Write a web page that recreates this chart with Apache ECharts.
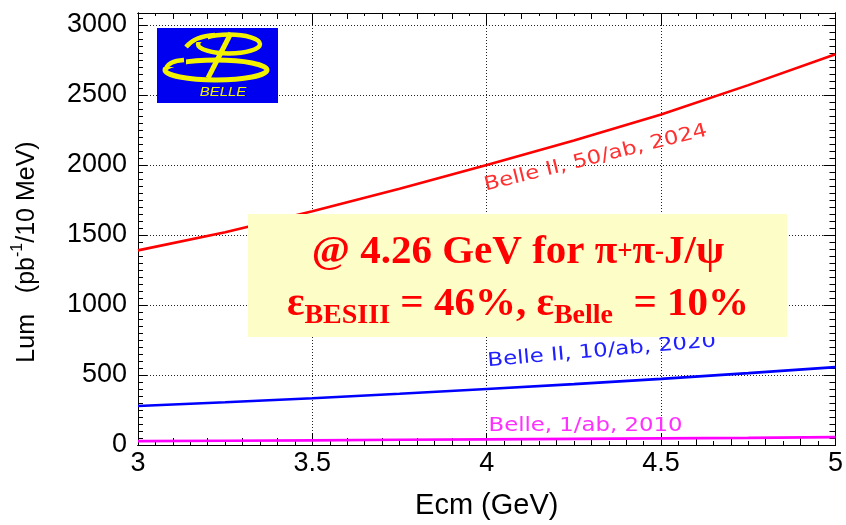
<!DOCTYPE html>
<html>
<head>
<meta charset="utf-8">
<script src="https://cdn.jsdelivr.net/npm/echarts@6/dist/echarts.min.js"></script>
<style>
  html, body { margin: 0; padding: 0; background: #fff; }
  #chart { width: 846px; height: 525px; }
</style>
</head>
<body>
<div id="chart"></div>
<script>
// Centre-of-mass energy (GeV) and integrated luminosity per 10 MeV bin (pb^-1)
const ecm            = [3.0, 3.25, 3.5, 3.75, 4.0, 4.25, 4.5, 4.75, 5.0];
const lumBelle2_50ab = [1390, 1520, 1670, 1830, 2000, 2175, 2360, 2570, 2790];
const lumBelle2_10ab = [278, 305, 334, 366, 400, 435, 472, 513, 556];
const lumBelle_1ab   = [28, 30, 33, 37, 40, 43.5, 47, 51, 56];

const seriesNames  = ['Belle II, 50/ab, 2024', 'Belle II, 10/ab, 2020', 'Belle, 1/ab, 2010'];
const seriesColors = ['#ff0000', '#0000ff', '#ff00ff'];
const labelColors  = ['#ff3030', '#2020ff', '#ff30ff'];

// Tick labels on the luminosity axis
const yTickValues = [0, 500, 1000, 1500, 2000, 2500, 3000];

const X_MIN = 3, X_MAX = 5, Y_MIN = 0, Y_MAX = 3085;
const FONT = '"Liberation Sans", Arial, Helvetica, sans-serif';
const SERIF = '"Liberation Serif", "Times New Roman", serif';

const chart = echarts.init(document.getElementById('chart'), null, { renderer: 'canvas' });

// One axis per tick level and frame side; they share the grid so the frame gets ROOT-style ticks.
function frameAxis(dim, position, interval, tickLen, extra) {
  const base = {
    type: 'value',
    position: position,
    min: dim === 'x' ? X_MIN : Y_MIN,
    max: dim === 'x' ? X_MAX : Y_MAX,
    interval: interval,
    axisLine: { show: true, onZero: false, lineStyle: { color: '#000', width: 1 } },
    axisTick: { show: true, inside: true, length: tickLen, lineStyle: { color: '#000', width: 1 } },
    axisLabel: { show: false },
    splitLine: { show: false }
  };
  return Object.assign(base, extra || {});
}

const gridDots = { show: true, lineStyle: { type: [1, 2], color: '#222', width: 1 } };

const xAxes = [
  frameAxis('x', 'bottom', 0.5, 12, {
    axisLabel: { show: true, fontSize: 27, color: '#000', fontFamily: FONT, margin: 5 },
    splitLine: gridDots,
    name: 'Ecm (GeV)',
    nameLocation: 'middle',
    nameGap: 46,
    nameTextStyle: { fontSize: 29, color: '#000', fontFamily: FONT }
  }),
  frameAxis('x', 'bottom', 0.1, 7),
  frameAxis('x', 'bottom', 0.05, 4),
  frameAxis('x', 'top', 0.5, 12),
  frameAxis('x', 'top', 0.1, 6),
  frameAxis('x', 'top', 0.05, 3)
];

const yAxes = [
  frameAxis('y', 'left', 500, 9, {
    axisLabel: {
      show: true, fontSize: 27, color: '#000', fontFamily: FONT, margin: 11,
      formatter: v => (yTickValues.indexOf(v) >= 0 ? String(v) : '')
    },
    splitLine: gridDots
  }),
  frameAxis('y', 'left', 50, 5),
  frameAxis('y', 'right', 500, 12),
  frameAxis('y', 'right', 50, 6)
];

function pairs(ys) { return ecm.map((x, i) => [x, ys[i]]); }

const seriesData = [lumBelle2_50ab, lumBelle2_10ab, lumBelle_1ab];

chart.setOption({
  animation: false,
  backgroundColor: '#ffffff',
  grid: { left: 138, right: 9, top: 13, bottom: 77, containLabel: false },
  xAxis: xAxes,
  yAxis: yAxes,
  series: seriesData.map((d, i) => ({
    name: seriesNames[i],
    type: 'line',
    xAxisIndex: 0,
    yAxisIndex: 0,
    data: pairs(d),
    smooth: false,
    showSymbol: false,
    symbol: 'none',
    z: 3,
    lineStyle: { color: seriesColors[i], width: 2.6 }
  }))
});

// Curve captions, anchored in data coordinates (lower-left corner of each caption);
// the wide, round ROOT caption font is imitated by stretching DejaVu Sans horizontally.
const captionAnchors = [[4.0, 1785], [4.005, 530], [4.005, 66]];
const captionAngles  = [14, 5, 0];

const captions = captionAnchors.map((a, i) => {
  const p = chart.convertToPixel({ xAxisIndex: 0, yAxisIndex: 0 }, a);
  return {
    type: 'text',
    x: p[0], y: p[1],
    rotation: captionAngles[i] * Math.PI / 180,
    scaleX: 1.2,
    z: 50,
    style: {
      text: seriesNames[i],
      fill: labelColors[i],
      fontFamily: '"DejaVu Sans", sans-serif',
      fontSize: 19,
      align: 'left',
      verticalAlign: 'bottom'
    }
  };
});

// Belle logo: blue plate with a stylised yellow "B"
const YEL = '#f2f200', BLU = '#0000f0';
const logo = [
  { type: 'rect', z: 60, shape: { x: 157, y: 28, width: 121, height: 75 }, style: { fill: BLU } },
  { type: 'ellipse', z: 61, shape: { cx: 229, cy: 44, rx: 31, ry: 9.5 }, style: { fill: 'none', stroke: YEL, lineWidth: 4.5 } },
  { type: 'rect', z: 61, shape: { x: 190, y: 30, width: 18, height: 12 }, style: { fill: BLU } },
  { type: 'bezierCurve', z: 62, shape: { x1: 186, y1: 47, cpx1: 195, cpy1: 36, x2: 215, y2: 35 }, style: { stroke: YEL, lineWidth: 4.5, fill: 'none' } },
  { type: 'ellipse', z: 61, shape: { cx: 216, cy: 70, rx: 51, ry: 10 }, style: { fill: 'none', stroke: YEL, lineWidth: 5 } },
  { type: 'rect', z: 61, shape: { x: 160, y: 58, width: 26, height: 9 }, style: { fill: BLU } },
  { type: 'bezierCurve', z: 62, shape: { x1: 166, y1: 69, cpx1: 168, cpy1: 61, x2: 184, y2: 60 }, style: { stroke: YEL, lineWidth: 4.5, fill: 'none' } },
  { type: 'line', z: 62, shape: { x1: 231, y1: 33, x2: 208, y2: 78 }, style: { stroke: YEL, lineWidth: 5 } },
  { type: 'text', z: 63, x: 223, y: 92, scaleX: 1.15, style: {
      text: 'BELLE', fill: YEL, fontFamily: FONT, fontStyle: 'italic', fontSize: 13,
      align: 'center', verticalAlign: 'middle'
  } }
];

// Yellow note box with efficiencies
const note = [
  { type: 'rect', z: 70, shape: { x: 248, y: 214, width: 539, height: 123 }, style: { fill: '#fdfdc8' } },
  { type: 'text', z: 71, x: 518, y: 226, style: {
      text: '{m|@ 4.26 GeV for π}{sp|+}{m|π}{sp|-}{m|J/ψ}\n{m|ε}{sb|BESIII}{m| = 46%, ε}{sb|Belle}{m|  = 10%}',
      align: 'center',
      verticalAlign: 'top',
      rich: {
        m:  { fontFamily: SERIF, fontWeight: 'bold', fontSize: 41, lineHeight: 52, fill: '#ff0000', color: '#ff0000' },
        sp: { fontFamily: SERIF, fontWeight: 'bold', fontSize: 27, lineHeight: 52, verticalAlign: 'middle', fill: '#ff0000', color: '#ff0000' },
        sb: { fontFamily: SERIF, fontWeight: 'bold', fontSize: 28, lineHeight: 28, verticalAlign: 'bottom', fill: '#ff0000', color: '#ff0000' }
      }
  } }
];

// Rotated luminosity axis title with superscript
const yTitle = {
  type: 'text', z: 40, x: 27, y: 252, rotation: Math.PI / 2,
  style: {
    text: '{a|Lum   (pb}{s|-1}{a|/10 MeV)}',
    align: 'center',
    verticalAlign: 'middle',
    rich: {
      a: { fontFamily: FONT, fontSize: 25, lineHeight: 34, fill: '#000', color: '#000' },
      s: { fontFamily: FONT, fontSize: 16, lineHeight: 20, verticalAlign: 'top', fill: '#000', color: '#000' }
    }
  }
};

chart.setOption({ graphic: { elements: [].concat(captions, logo, note, [yTitle]) } });
</script>
</body>
</html>
